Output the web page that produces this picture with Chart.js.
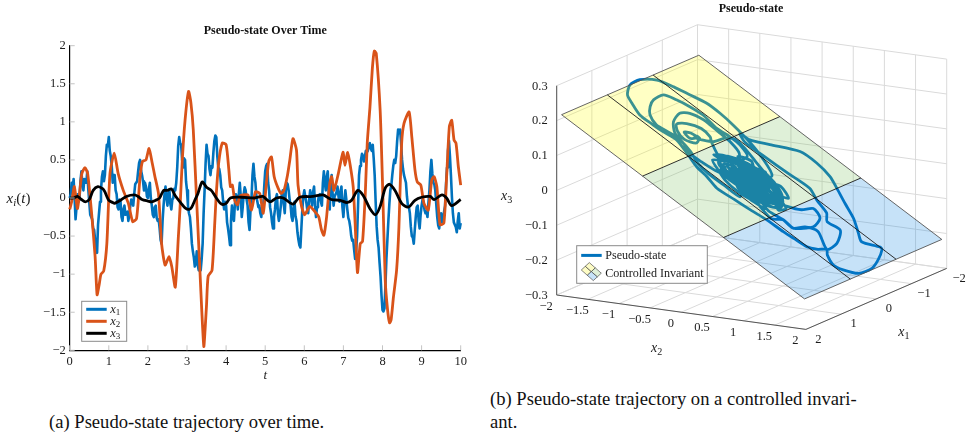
<!DOCTYPE html>
<html><head><meta charset="utf-8">
<script src="https://cdn.jsdelivr.net/npm/chart.js@4"></script>
<style>
html,body{margin:0;padding:0;background:#fff;width:966px;height:435px;overflow:hidden}
canvas{position:absolute;top:0}
#left{left:0}#right{left:480px}
.cap{position:absolute;font:18.6px/23px 'Liberation Serif',serif;color:#111;white-space:pre}
</style></head><body>
<canvas id="left" width="480" height="390"></canvas>
<canvas id="right" width="486" height="375"></canvas>
<div class="cap" style="left:49px;top:410px">(a) Pseudo-state trajectory over time.</div>
<div class="cap" style="left:490px;top:387px">(b) Pseudo-state trajectory on a controlled invari-
ant.</div>
<script>
// ---------- left panel: values ----------
const x1Step = 0.05;
const x1 = [
 0,.2,.25,-.28,.05,-.02,.35,.1,.2,.35,-.05,-.25,-.4,-.55,-.72,-.2,.1,.35,.3,.7,
 .8,.55,.2,.3,.05,-.15,-.05,-.3,-.1,-.2,-.3,-.1,-.05,.05,.2,.35,.5,.3,.1,.15,
 0,.2,-.1,-.25,-.1,-.3,-.4,-.6,-.1,.15,-.1,.1,-.15,0,.1,.4,.8,.7,.4,.5,
 .1,-.2,-.4,-.7,-.9,-.7,-.95,-.95,-.6,.1,.7,.55,.3,.4,.75,.8,.4,.3,.1,-.15,
 -.1,-.4,-.62,-.1,-.3,.05,-.15,.2,-.25,.05,.1,-.1,-.42,0,.45,.2,-.05,-.1,-.25,-.1,
 .35,.45,.1,-.2,-.4,-.15,.05,-.3,-.1,.1,-.2,.2,.1,-.1,-.3,-.05,-.3,-.55,-.65,-.15,
 .1,-.05,-.2,.1,-.1,.15,-.25,-.05,.05,-.1,.35,.1,.35,-.15,.3,-.1,.05,.15,-.05,.15,
 -.25,.1,-.15,-.3,-.5,-.55,-.8,-.5,.3,.5,.55,.55,.6,.7,.65,.7,.3,-.37,-.65,-1.03,
 -1.47,-1.45,-.8,-.3,.1,.3,.5,.55,.9,.9,.5,.3,.2,-.1,-.2,-.5,-.6,-.25,-.1,-.4,
 -.1,-.05,-.2,-.25,.1,.5,.2,.1,-.25,-.4,-.2,-.3,-.1,.4,.75,.3,-.2,-.35,-.45,-.2,-.33];
// half-step readings between the x1 samples above
const x1Mid = [
 .05,.1,0,-.12,-.05,.22,.18,.25,.2,.12,-.22,-.28,-.42,-.68,-.35,-.05,.28,.22,.55,.68,
 .62,.42,.3,.1,-.12,-.02,-.25,-.15,-.22,-.18,-.22,-.02,-.1,.18,.22,.46,.36,.22,.2,.02,
 .12,0,-.22,-.12,-.26,-.28,-.55,-.3,.05,0,.06,-.08,-.02,.12,.2,.68,.72,.5,.52,.22,
 -.1,-.25,-.6,-.78,-.85,-.88,-.8,-.8,-.2,.45,.58,.38,.42,.6,.82,.55,.38,.14,-.05,-.05,
 -.32,-.5,-.3,-.25,-.08,-.02,.05,.02,-.12,.14,-.02,-.32,-.15,.3,.28,.02,-.12,-.2,-.12,.15,
 .42,.2,-.12,-.32,-.25,0,-.2,-.22,.05,-.08,.08,.18,-.02,-.25,-.12,-.24,-.45,-.62,-.4,.02,
 .02,-.15,-.02,.02,.08,-.1,-.12,.04,-.05,.2,.2,.28,.05,.18,.05,.02,.08,.02,.08,-.12,
 -.05,-.02,-.26,-.38,-.56,-.68,-.7,-.1,.42,.58,.48,.62,.62,.72,.62,.52,-.05,-.55,-.85,-1.28,
 -1.49,-1.15,-.55,-.08,.16,.42,.46,.75,.85,.72,.38,.3,.02,-.12,-.38,-.52,-.42,-.12,-.3,-.22,
 -.02,-.16,-.18,-.06,.35,.32,.18,-.08,-.36,-.26,-.32,-.18,.18,.62,.55,.02,-.32,-.38,-.3,-.4];
const x2Time = [0,.05,.12,.2,.31,.39,.46,.56,.65,.7,.75,.8,.87,.95,1.03,1.14,1.24,1.37,1.5,1.61,1.71,1.8,1.86,1.95,2.03,2.11,2.18,2.27,2.35,2.44,2.54,2.61,2.7,2.78,2.82,2.88,2.95,3.04,3.1,3.16,3.25,3.33,3.38,3.43,3.46,3.5,3.54,3.64,3.71,3.75,3.81,3.9,4,4.07,4.11,4.16,4.22,4.29,4.35,4.43,4.56,4.65,4.75,4.86,4.95,5.03,5.09,5.16,5.23,5.33,5.41,5.48,5.57,5.63,5.71,5.8,5.84,5.93,6.01,6.14,6.27,6.37,6.44,6.5,6.57,6.65,6.7,6.76,6.87,6.99,7.04,7.11,7.18,7.25,7.3,7.36,7.43,7.49,7.56,7.61,7.68,7.74,7.79,7.84,7.94,8,8.07,8.13,8.18,8.22,8.28,8.36,8.42,8.49,8.55,8.68,8.75,8.83,8.89,8.98,9.06,9.17,9.26,9.32,9.39,9.47,9.57,9.64,9.71,9.77,9.83,9.88,9.94,10];
const x2 = [-.15,-.05,.15,-.14,.32,.4,.32,-.2,-.77,-1.27,-1.15,-1,-.96,-.6,.32,.59,.32,.1,-.07,-.31,-.27,.28,.48,.5,.65,.46,.28,.06,-.6,-.88,-.77,-.9,-1.17,-.5,-.15,.5,1.02,1.4,1.25,.9,-.07,-.95,-1.5,-1.95,-1.75,-1.4,-1.03,-.95,-.33,.06,.46,.72,.7,.37,.15,.17,-.03,-.09,.02,.04,.04,-.16,.08,.06,-.2,.19,.48,.54,.28,.13,.06,.1,.3,.5,.78,.63,.17,-.11,-.22,-.11,-.18,-.25,-.42,-.49,-.25,.19,.28,.1,.32,.6,.43,.6,.41,.15,-.33,-.98,-.6,-.57,.06,.72,1.2,1.7,1.93,1.9,1.15,.2,-1.08,-1.47,-1.64,-1.6,-1.3,-.95,-.38,.72,.98,1.13,.8,.37,.21,.17,-.07,-.16,.24,.28,.15,-.35,-.33,.28,.94,1.02,.76,.72,.41,.17];
const x3Time = [0,.1,.2,.3,.4,.5,.6,.72,.85,.9,.95,1,1.1,1.15,1.3,1.45,1.65,1.75,1.85,2,2.1,2.2,2.3,2.4,2.5,2.6,2.7,2.85,2.95,3.05,3.12,3.2,3.28,3.39,3.5,3.62,3.75,3.88,4,4.11,4.39,4.73,4.94,5.12,5.29,5.46,5.71,5.88,6.22,6.48,6.69,6.92,7.09,7.21,7.37,7.51,7.68,7.82,7.94,8.07,8.18,8.32,8.49,8.66,8.83,9,9.22,9.32,9.52,9.64,9.77,10];
const x3 = [0,0,.02,-.02,-.05,-.02,.1,.15,.12,.08,.02,-.03,-.06,-.07,-.03,.02,.04,.02,-.02,-.04,-.05,-.03,0,.1,.1,.12,.03,-.07,-.13,-.15,-.12,-.03,.06,.21,.14,.1,0,-.08,-.07,0,.01,0,.02,-.05,0,0,-.08,.01,.02,.04,-.02,-.03,-.06,-.03,.1,.03,-.14,-.22,-.11,.13,.18,.1,-.07,-.12,-.03,.01,.02,-.02,.04,0,-.1,-.02];
const xTicksT = [0,1,2,3,4,5,6,7,8,9,10];
const yTicksX = [-2,-1.5,-1,-.5,0,.5,1,1.5,2];

// ---------- right panel: values ----------
const x1Ticks = [-2,-1,0,1,2];
const x2Ticks = [-2,-1.5,-1,-.5,0,.5,1,1.5,2];
const x3Ticks = [-.3,-.2,-.1,0,.1,.2,.3];
const planeX1 = [1.95,.65,-.65,-1.95];
const planeX2 = [-1.95,-.65,.65,1.95];
const planeX3 = [.216,.072,-.072,-.216];
const trajX2 = [
 0,.2,.4,.5,.35,.1,-.15,-.35,-.4,-.2,.05,.3,.5,.58,.5,.3,.05,-.2,-.4,-.47,-.35,-.1,.1,.25,.15,-.05,-.2,-.1,.12,.32,.4,.25,0,-.25,-.3,-.15,.05,.2,.35,.2,-.05,-.28,
 -.3,-.5,-.67,-.86,-1.12,-1.31,-1.48,-1.62,-1.61,-1.54,-1.43,-1.26,-1.07,-.92,-.7,-.5,-.3,-.05,.2,
 .1,.3,.45,.42,.22,-.02,-.18,-.08,.1,.22,.08,-.14,-.32,-.36,-.18,.08,.34,.52,.46,.24,.02,
 -.4,-.6,-.78,-.94,-1.05,-1.22,-1.28,-1.2,-1.04,-.85,-.68,-.5,-.3,
 -.12,.12,.38,.55,.5,.28,.06,-.12,-.26,-.1,.02,.18,.34,.3,.14,-.04,-.24,-.3,
 -.45,-.7,-.78,-.95,-1.1,-1.15,-1.05,-.9,-.78,-.82,-.95,-1,-.88,-.85,-.82,-.87,-.88,-.84,-.8,-.7,-.68,-.6,-.4,-.2,
 -.02,.2,.42,.55,.44,.26,.1,-.08,-.2,-.04,.14,.1,
 .1,-.2,-.5,-.8,-1.04,-1.26,-1.47,-1.67,-1.86,-1.96,-1.95,-1.83,-1.69,-1.49,-1.28,-1.13,-.94,-.67,-.46,-.27,-.05,.2,.45,.66,.92,1.07,1.26,1.35,1.41,1.49,1.66,1.78,1.92,1.93,1.85,1.74,1.69,1.51,1.38,1.15,.9,.65,.45,.19,-.06,-.33,-.51,-.66,-.5,-.2,.15,.49,.69,.92,1.04,1.23,1.39,1.41,1.12,.98,.93,.76,.68,.45,
 .3,.06,-.16,-.34,-.24,-.06,.16,.36,.2,.4,.6,.73,.78,.95,1.03,.93,.76,.55,.3,.1,
 -.1,-.3,-.12,.06,.26,.44,.3,.48,.6,.62,.4,.5,.3,.14,.02,-.12,-.22,-.36,-.2,-.44,-.52,-.38,-.46,-.26,-.1,.1,.3,.5,.38,.18,.02,-.2,-.08,.08,.22,.36,.46,.3,.12,-.06,-.16,-.3,-.14,.04,.2];
const trajX1 = [
 .1,.25,.3,.15,-.05,-.15,-.1,.05,.2,.35,.4,.42,.35,.2,0,-.2,-.3,-.25,-.1,.1,.3,.3,.2,.05,-.08,-.02,.1,.22,.3,.18,.02,-.12,-.2,-.12,.05,.18,.12,.15,.3,.42,.47,.4,
 -.4,-.55,-.57,-.53,-.6,-.56,-.48,-.36,-.06,.16,.36,.48,.43,.41,.5,.65,.7,.7,.68,
 .4,.3,.12,-.05,-.18,-.1,.02,.14,.08,.22,.36,.28,.14,-.06,-.2,-.24,-.14,.06,.28,.38,.3,
 -.35,-.45,-.47,-.49,-.49,-.4,-.22,.1,.34,.43,.55,.55,.5,
 .42,.48,.45,.3,.1,0,.04,.08,.2,.14,.2,.32,.22,.08,-.02,-.14,-.04,-.22,
 .1,-.1,-.2,-.25,-.1,.1,.25,.32,.2,.05,.05,.15,.2,.08,.02,.02,.06,.07,.03,-.15,-.45,-.6,-.55,-.45,
 -.36,-.28,-.12,.12,.2,.12,-.04,-.06,.16,.26,.18,0,
 -.4,-.65,-.8,-.9,-.95,-.94,-.84,-.74,-.6,-.29,.01,.29,.41,.54,.54,.52,.47,.62,.75,.8,.9,.85,.8,.75,.73,.7,.66,.54,.36,.49,.62,.55,.36,0,-.32,-.62,-.66,-.45,-.59,-.86,-1.06,-1.27,-1.43,-1.51,-1.48,-1.1,-.85,-.83,-.7,-.72,-.75,-.78,-.63,-.5,-.3,-.34,.04,.36,.1,.22,.47,.45,.64,.55,
 .46,.34,.36,.2,.06,.18,.22,.08,-.06,.2,.05,-.12,-.37,-.26,.07,.47,.45,.5,.36,.26,
 .45,.34,.3,.5,.52,.38,.26,.2,.3,.12,-.02,-.16,-.3,-.18,-.36,-.28,-.38,-.24,-.08,-.02,.16,.12,.3,.46,.56,.6,.56,.5,.34,.42,.24,.24,.06,.16,.02,.14,-.04,-.1,-.1,-.2,-.06,-.08,.02,-.02,.1];
const trajX3 = [
 0,-.022,-.044,-.056,-.039,-.011,.017,.039,.044,.022,-.006,-.033,-.056,-.064,-.056,-.033,-.006,.022,.044,.052,.039,.011,-.011,-.028,-.017,.006,.022,.011,-.013,-.036,-.044,-.028,0,.028,.033,.017,-.006,-.022,-.039,-.022,.006,.031,
 .033,.056,.074,.095,.124,.145,.164,.18,.179,.171,.159,.14,.119,.102,.078,.056,.033,.006,-.022,
 -.011,-.033,-.05,-.047,-.024,.002,.02,.009,-.011,-.024,-.009,.016,.036,.04,.02,-.009,-.038,-.058,-.051,-.027,-.002,
 .044,.067,.087,.104,.117,.135,.142,.133,.115,.094,.075,.056,.033,
 .013,-.013,-.042,-.061,-.056,-.031,-.007,.013,.029,.011,-.002,-.02,-.038,-.033,-.016,.004,.027,.033,
 .05,.078,.087,.105,.122,.128,.117,.1,.087,.091,.105,.111,.098,.094,.091,.097,.098,.093,.089,.078,.075,.067,.044,.022,
 .002,-.022,-.047,-.061,-.049,-.029,-.011,.009,.022,.004,-.016,-.011,
 -.011,.022,.056,.089,.115,.14,.163,.185,.206,.218,.216,.203,.188,.165,.142,.125,.104,.074,.051,.03,.006,-.022,-.05,-.073,-.102,-.119,-.14,-.15,-.157,-.165,-.184,-.198,-.213,-.214,-.205,-.193,-.188,-.168,-.153,-.128,-.1,-.072,-.05,-.021,.007,.037,.057,.073,.056,.022,-.017,-.054,-.077,-.102,-.115,-.137,-.154,-.157,-.124,-.109,-.103,-.084,-.075,-.05,
 -.033,-.007,.018,.038,.027,.007,-.018,-.04,-.022,-.044,-.067,-.081,-.087,-.105,-.114,-.103,-.084,-.061,-.033,-.011,
 .011,.033,.013,-.007,-.029,-.049,-.033,-.053,-.067,-.069,-.044,-.056,-.033,-.016,-.002,.013,.024,.04,.022,.049,.058,.042,.051,.029,.011,-.011,-.033,-.056,-.042,-.02,-.002,.022,.009,-.009,-.024,-.04,-.051,-.033,-.013,.007,.018,.033,.016,-.004,-.022];

// ---------- shared style ----------
const SERIF = "'Liberation Serif', serif";
const INK = '#1c1c1c';
const BLUE = '#0072BD', ORANGE = '#D95319', BLACK = '#000000';
Chart.defaults.font.family = SERIF;
Chart.defaults.color = INK;
Chart.defaults.animation = false;
const minusText = v => String(v).replace('-', '\u2212');

function mathWidth(ctx, parts, size) {
  let w = 0;
  for (const p of parts) {
    ctx.font = (p.i ? 'italic ' : '') + (p.sub ? size * .72 : size) + 'px ' + SERIF;
    w += ctx.measureText(p.t).width;
  }
  return w;
}
function drawMath(ctx, x, y, parts, size, center) {
  ctx.save();
  ctx.fillStyle = INK;
  ctx.textAlign = 'left';
  ctx.textBaseline = 'alphabetic';
  if (center) x -= mathWidth(ctx, parts, size) / 2;
  const base = y + size * .3;
  for (const p of parts) {
    ctx.font = (p.i ? 'italic ' : '') + (p.sub ? size * .72 : size) + 'px ' + SERIF;
    ctx.fillText(p.t, x, p.sub ? base + size * .22 : base);
    x += ctx.measureText(p.t).width;
  }
  ctx.restore();
}
const sym = n => [{t:'x',i:true},{t:String(n),sub:true}];

// ---------- left chart ----------
const tsData = (ts, vs) => vs.map((v, i) => ({x: ts[i], y: v}));
const x1Series = x1.flatMap((v, i) => i < x1Mid.length
  ? [{x: i * x1Step, y: v}, {x: (i + .5) * x1Step, y: x1Mid[i]}]
  : [{x: i * x1Step, y: v}]);
const leftPlugin = {
  id: 'leftDecor',
  afterDraw(chart) {
    const {ctx, scales:{x, y}} = chart;
    ctx.save();
    ctx.strokeStyle = '#c4c4c4'; ctx.lineWidth = 1;
    for (const t of xTicksT) { const p = x.getPixelForValue(t); ctx.beginPath(); ctx.moveTo(p, y.bottom); ctx.lineTo(p, y.bottom - 5); ctx.stroke(); }
    for (const t of yTicksX) { const p = y.getPixelForValue(t); ctx.beginPath(); ctx.moveTo(x.left, p); ctx.lineTo(x.left + 5, p); ctx.stroke(); }
    // y label
    drawMath(ctx, 18.5, y.getPixelForValue(0) + .5, [{t:'x',i:true},{t:'i',i:true,sub:true},{t:'('},{t:'t',i:true},{t:')'}], 15, true);
    // legend
    const bx = 81.7, by = 301.3, bw = 45, bh = 40;
    ctx.fillStyle = '#fff'; ctx.fillRect(bx, by, bw, bh);
    ctx.strokeStyle = '#8a8a8a'; ctx.strokeRect(bx, by, bw, bh);
    chart.data.datasets.forEach((d, i) => {
      const ly = by + 8 + i * 12;
      ctx.strokeStyle = d.borderColor; ctx.lineWidth = 3;
      ctx.beginPath(); ctx.moveTo(bx + 4.5, ly); ctx.lineTo(bx + 25, ly); ctx.stroke();
      drawMath(ctx, bx + 28.5, ly - .5, sym(i + 1), 12.5, false);
    });
    ctx.restore();
  }
};
const lineDs = (label, data, color, width, order, tension) => ({
  label, data, borderColor: color, backgroundColor: color, borderWidth: width, order,
  pointRadius: 0, showLine: true, tension, borderJoinStyle: 'round', clip: false
});
new Chart(document.getElementById('left'), {
  type: 'scatter',
  data: { datasets: [
    lineDs('x1', x1Series, BLUE, 2.6, 3, 0),
    lineDs('x2', tsData(x2Time, x2), ORANGE, 2.8, 2, .2),
    lineDs('x3', tsData(x3Time, x3), BLACK, 2.8, 1, .3)
  ]},
  options: {
    responsive: false, animation: false,
    layout: { padding: { left: 0, right: 19.3, top: 0, bottom: 0 } },
    plugins: {
      legend: { display: false }, tooltip: { enabled: false },
      title: { display: true, fullSize: false, text: 'Pseudo-state Over Time', color: '#111',
        font: { size: 12, weight: 'bold', family: SERIF, lineHeight: 1 }, padding: { top: 24.7, bottom: 9 } }
    },
    scales: {
      x: { type: 'linear', min: 0, max: 10,
        grid: { display: false, drawTicks: false }, border: { display: true, color: '#000', width: 1.2 },
        afterBuildTicks: s => { s.ticks = xTicksT.map(v => ({value: v})); },
        afterFit: s => { s.height = 39.7; },
        ticks: { autoSkip: false, maxRotation: 0, padding: 3.5, font: { size: 12.5 }, color: INK, callback: minusText },
        title: { display: true, text: 't', font: { size: 13, style: 'italic', family: SERIF }, color: INK, padding: { top: 0, bottom: 7 } }
      },
      y: { type: 'linear', min: -2, max: 2,
        grid: { display: false, drawTicks: false }, border: { display: true, color: '#000', width: 1.2 },
        afterBuildTicks: s => { s.ticks = yTicksX.map(v => ({value: v})); },
        afterFit: s => { s.width = 69.7; },
        ticks: { autoSkip: false, padding: 4, font: { size: 12.5 }, color: INK, callback: minusText }
      }
    }
  },
  plugins: [leftPlugin]
});

// ---------- right chart: oblique view of the 3-D axes ----------
const VIEW = { x2u: 62.3, x1u: 35.2, x2v: -8.6, x1v: 15.25, x3v: 348.8 };
function project(a1, a2, a3) {
  const a = a2 + 2, b = 2 - a1;
  return { x: VIEW.x2u * a + VIEW.x1u * b, y: VIEW.x2v * a + VIEW.x1v * b + VIEW.x3v * (a3 + .3) };
}
const segDs = (pts, color, width, order) => ({ data: pts, borderColor: color, borderWidth: width, order, pointRadius: 0, showLine: true, clip: false, tension: 0 });
const GRID = '#dadada';
const rDs = [];
for (const v of x2Ticks) {
  rDs.push(segDs([project(2, v, -.3), project(-2, v, -.3)], GRID, 1, 100));
  rDs.push(segDs([project(-2, v, -.3), project(-2, v, .3)], GRID, 1, 100));
}
for (const v of x1Ticks) {
  rDs.push(segDs([project(v, -2, -.3), project(v, 2, -.3)], GRID, 1, 100));
  rDs.push(segDs([project(v, -2, -.3), project(v, -2, .3)], GRID, 1, 100));
}
for (const v of x3Ticks) {
  rDs.push(segDs([project(2, -2, v), project(-2, -2, v)], GRID, 1, 100));
  rDs.push(segDs([project(-2, -2, v), project(-2, 2, v)], GRID, 1, 100));
}
const AXIS = '#555555';
rDs.push(segDs([project(2, -2, -.3), project(2, -2, .3)], AXIS, 1, 90));
rDs.push(segDs([project(2, -2, -.3), project(2, 2, -.3)], AXIS, 1, 90));
rDs.push(segDs([project(2, 2, -.3), project(-2, 2, -.3)], AXIS, 1, 90));
// trajectory lies under the translucent surface
rDs.push({ data: trajX2.map((v, i) => project(trajX1[i], v, trajX3[i])), borderColor: BLUE, borderWidth: 2.8, order: 50,
  pointRadius: 0, showLine: true, tension: .25, clip: false, borderJoinStyle: 'round' });
// translucent bands of the controlled invariant
const bandColors = ['rgba(255,255,0,.23)', 'rgba(116,190,85,.23)', 'rgba(7,129,225,.23)'];
bandColors.forEach((c, k) => {
  const L = planeX1[0], R = planeX1[3];
  rDs.push({ data: [project(L, planeX2[k], planeX3[k]), project(R, planeX2[k], planeX3[k]), project(R, planeX2[k+1], planeX3[k+1]), project(L, planeX2[k+1], planeX3[k+1])],
    polygonColor: c, order: 40, pointRadius: 0, showLine: false, clip: false });
});
for (const k of [1, 2]) {
  rDs.push(segDs([project(planeX1[0], planeX2[k], planeX3[k]), project(planeX1[3], planeX2[k], planeX3[k])], '#1a1a1a', .9, 30));
  rDs.push(segDs([project(planeX1[k], planeX2[0], planeX3[0]), project(planeX1[k], planeX2[3], planeX3[3])], '#1a1a1a', .9, 30));
}
rDs.push(segDs([0,3].map(i => project(planeX1[0], planeX2[i], planeX3[i])), '#555', .9, 30));
rDs.push(segDs([0,3].map(i => project(planeX1[3], planeX2[i], planeX3[i])), '#555', .9, 30));
rDs.push(segDs([project(planeX1[0], planeX2[0], planeX3[0]), project(planeX1[3], planeX2[0], planeX3[0])], '#555', .9, 30));
rDs.push(segDs([project(planeX1[0], planeX2[3], planeX3[3]), project(planeX1[3], planeX2[3], planeX3[3])], '#555', .9, 30));

const polygonFill = {
  id: 'polygonFill',
  afterDatasetDraw(chart, args) {
    const c = chart.data.datasets[args.index].polygonColor;
    if (!c) return;
    const ctx = chart.ctx, pts = args.meta.data;
    ctx.save(); ctx.fillStyle = c; ctx.beginPath();
    pts.forEach((p, i) => i ? ctx.lineTo(p.x, p.y) : ctx.moveTo(p.x, p.y));
    ctx.closePath(); ctx.fill(); ctx.restore();
  }
};
const rightDecor = {
  id: 'rightDecor',
  afterDraw(chart) {
    const {ctx, scales:{x, y}} = chart;
    const px = p => ({ x: x.getPixelForValue(p.x), y: y.getPixelForValue(p.y) });
    const label = (txt, q, dx, dy, align) => {
      ctx.fillStyle = INK; ctx.font = '12.5px ' + SERIF; ctx.textAlign = align; ctx.textBaseline = 'middle';
      ctx.fillText(txt, q.x + dx, q.y + dy);
    };
    ctx.save();
    for (const v of x3Ticks) label(minusText(v), px(project(2, -2, v)), -9, .5, 'right');
    for (const v of x2Ticks) label(minusText(v), px(project(2, v, -.3)), -10.5, 11.5, 'center');
    for (const v of x1Ticks) label(minusText(v), px(project(v, 2, -.3)), 12.5, 10, 'center');
    drawMath(ctx, 176.7, 347.7, sym(2), 14, true);
    drawMath(ctx, 424, 331.7, sym(1), 14, true);
    drawMath(ctx, 26.7, 196, sym(3), 14, true);
    ctx.fillStyle = '#111'; ctx.font = 'bold 12px ' + SERIF; ctx.textAlign = 'center'; ctx.textBaseline = 'middle';
    ctx.fillText('Pseudo-state', 271, 9);
    // legend
    const bx = 96.7, by = 245.7, bw = 130.6, bh = 37.6;
    ctx.fillStyle = '#fff'; ctx.fillRect(bx, by, bw, bh);
    ctx.strokeStyle = '#8a8a8a'; ctx.lineWidth = 1; ctx.strokeRect(bx, by, bw, bh);
    ctx.strokeStyle = BLUE; ctx.lineWidth = 3;
    ctx.beginPath(); ctx.moveTo(bx + 4.5, by + 9.7); ctx.lineTo(bx + 25, by + 9.7); ctx.stroke();
    ctx.fillStyle = INK; ctx.font = '12.1px ' + SERIF; ctx.textAlign = 'left'; ctx.textBaseline = 'middle';
    ctx.fillText('Pseudo-state', bx + 28.5, by + 9.7);
    ctx.fillText('Controlled Invariant', bx + 28.5, by + 27.7);
    const ox = bx + 4.6, oy = by + 24.3, ux = 6, uy = 5.3, vx = 4, vy = -3.7;
    const cell = (i, j, col) => {
      ctx.fillStyle = col; ctx.strokeStyle = '#333'; ctx.lineWidth = .6; ctx.beginPath();
      [[i,j],[i+1,j],[i+1,j+1],[i,j+1]].forEach(([a,b], k) => {
        const qx = ox + a*ux + b*vx, qy = oy + a*uy + b*vy;
        k ? ctx.lineTo(qx, qy) : ctx.moveTo(qx, qy);
      });
      ctx.closePath(); ctx.fill(); ctx.stroke();
    };
    cell(0, 0, '#fdfcc5'); cell(0, 1, '#fdfcc5'); cell(1, 1, '#dff0d8'); cell(1, 0, '#c6e2f8');
    ctx.restore();
  }
};
new Chart(document.getElementById('right'), {
  type: 'scatter',
  data: { datasets: rDs },
  options: {
    responsive: false, animation: false,
    layout: { padding: 0 },
    plugins: { legend: { display: false }, tooltip: { enabled: false }, title: { display: false } },
    scales: {
      x: { type: 'linear', display: false, min: -76.7, max: 409.3 },
      y: { type: 'linear', display: false, min: -80, max: 295 }
    }
  },
  plugins: [polygonFill, rightDecor]
});
</script>
</body></html>
